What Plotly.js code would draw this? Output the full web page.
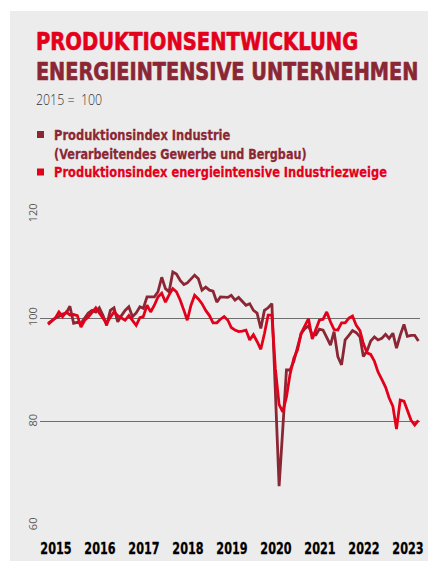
<!DOCTYPE html>
<html>
<head>
<meta charset="utf-8">
<script src="https://cdn.plot.ly/plotly-3.0.1.min.js"></script>
<style>
  html, body { margin: 0; padding: 0; background: #ffffff; }
  #chart { position: absolute; left: 10px; top: 11px; width: 418px; height: 550px; }
</style>
</head>
<body>
<div id="chart"></div>
<script>
// ---- Data (2015 = 100), monthly from Jan 2015 ----
const startYear = 2015;
const industrie = [
  99, 99.5, 100, 100.3, 100.8, 101, 102.3, 99, 99.2, 99, 100, 101,
  101.5, 101.2, 102, 100.5, 98.6, 101.5, 102, 99.3, 100.5, 101.5, 102.2, 100.3,
  101, 102.2, 101.9, 104.1, 104.1, 104.1, 105.1, 107.9, 105.7, 105.1, 108.9, 108.5,
  107.3, 106.5, 106.8, 107.5, 108.3, 107.6, 105.4, 106, 105.4, 105.2, 103.1, 104.1,
  104, 104, 104.4, 103.5, 104, 103.2, 102.5, 102.8, 101.5, 101, 98, 101.5,
  102, 102.8, 86, 67.6, 78.5, 90, 90, 91.7, 94.4, 97, 98, 98.5,
  96.8, 96.8, 97.9, 97.7, 96.3, 94.8, 97.4, 92.6, 91, 95.8, 96.7, 97.6,
  97.2, 96.4, 92.6, 93.7, 95.6, 96.4, 95.8, 96.1, 96.9, 96.1, 97.1, 94.2,
  96.7, 98.8, 96.5, 96.7, 96.7, 95.6
];
const energieintensiv = [
  98.8, 99.5, 100, 101.2, 100.3, 101.2, 100.6, 100.7, 100.5, 98.3, 99.6, 100.2,
  101, 102, 101, 100, 99, 100.2, 101.2, 100.5, 100, 99.6, 100.5, 99.5,
  98.6, 100.1, 100.3, 102.5, 101.2, 102.5, 104.1, 104.8, 103.1, 104.5, 105.7, 105.1,
  103.5, 101.5, 99.6, 102.5, 104.4, 103.7, 102.8, 101.5, 100.5, 99.1, 99.1, 99.8,
  100.3, 99.6, 98.2, 97.7, 97.4, 97.5, 97.7, 95.8, 96.8, 95.5, 94, 97,
  100.6, 100.6, 90.2, 83.3, 81.9, 84.8, 89.2, 92.3, 93.9, 97.1, 98.5, 99.9,
  96, 97.7, 99.6, 99.8, 101.2, 99.3, 97.8, 97.7, 99.1, 99.1, 100, 100.4,
  98.6, 97.6, 95.1, 93.3, 93, 91.7, 89.6, 88.2, 86.7, 84.6, 83, 78.6,
  84.2, 84, 82.2, 80.3, 79.4, 80.3
];
const yearLabels = ["2015","2016","2017","2018","2019","2020","2021","2022","2023"];
const yTicks = [60, 80, 100, 120];
const legendLines = [
  "Produktionsindex Industrie",
  "(Verarbeitendes Gewerbe und Bergbau)",
  "Produktionsindex energieintensive Industriezweige"
];

// month date strings for the categories
const months = industrie.map((_, i) => {
  const y = startYear + Math.floor(i / 12);
  const m = (i % 12) + 1;
  return y + "-" + String(m).padStart(2, "0") + "-01";
});

const DARK = "#8b2734";
const RED = "#e3001b";
const BG = "#ececec";

// pixel helpers (div coordinates) -> paper coordinates
const W = 418, H = 550, L = 30, R = 8, T = 203, B = 35;
const pw = W - L - R, ph = H - T - B;
const px = x => (x - L) / pw;
const py = y => (H - B - y) / ph;

const traces = [
  { x: months, y: industrie, type: "scatter", mode: "lines",
    line: { color: DARK, width: 2.8 }, name: "Industrie", hoverinfo: "skip" },
  { x: months, y: energieintensiv, type: "scatter", mode: "lines",
    line: { color: RED, width: 2.8 }, name: "Energieintensiv", hoverinfo: "skip" }
];

const BF = "'DejaVu Sans', sans-serif";
const LF = "'Open Sans', 'DejaVu Sans', sans-serif";

// each annotation may carry a target width (px), scale origin and extra stroke weight
const annSpecs = [
  { text: "<b>PRODUKTIONSENTWICKLUNG</b>", x: px(25), y: py(30), xanchor: "left", yanchor: "middle",
    font: { family: BF, size: 25, color: RED }, _w: 323, _o: "left", _s: 0.7 },
  { text: "<b>ENERGIEINTENSIVE UNTERNEHMEN</b>", x: px(25), y: py(60), xanchor: "left", yanchor: "middle",
    font: { family: BF, size: 25, color: DARK }, _w: 383, _o: "left", _s: 0.7 },
  { text: "2015 =  100", x: px(25), y: py(88), xanchor: "left", yanchor: "middle",
    font: { family: LF, size: 15, color: "#333333", weight: 300 }, _w: 67, _o: "left" },
  { text: "<b>" + legendLines[0] + "</b>", x: px(43), y: py(124), xanchor: "left", yanchor: "middle",
    font: { family: BF, size: 13.5, color: DARK }, _w: 177, _o: "left", _s: 0.25 },
  { text: "<b>" + legendLines[1] + "</b>", x: px(43), y: py(143), xanchor: "left", yanchor: "middle",
    font: { family: BF, size: 13.5, color: DARK }, _w: 254, _o: "left", _s: 0.25 },
  { text: "<b>" + legendLines[2] + "</b>", x: px(43), y: py(161), xanchor: "left", yanchor: "middle",
    font: { family: BF, size: 13.5, color: RED }, _w: 334, _o: "left", _s: 0.25 }
];
// x axis year labels, placed on the date axis
const tickDates = yearLabels.map(y => y + "-03-06");
yearLabels.forEach((lab, i) => {
  annSpecs.push({ text: "<b>" + lab + "</b>", x: tickDates[i], xref: "x", y: py(537), xanchor: "center",
    yanchor: "middle", font: { family: BF, size: 16.5, color: "#000000" }, _w: 32, _o: "center", _s: 0.3 });
});

const annotations = annSpecs.map(a => {
  const o = Object.assign({ xref: "paper", yref: "paper", showarrow: false, borderpad: 0 }, a);
  delete o._w; delete o._o; delete o._s;
  return o;
});

const shapes = [
  { type: "rect", xref: "paper", yref: "paper", x0: px(27), x1: px(34), y0: py(120), y1: py(127),
    fillcolor: DARK, line: { width: 0 } },
  { type: "rect", xref: "paper", yref: "paper", x0: px(27), x1: px(34), y0: py(157.5), y1: py(164.5),
    fillcolor: RED, line: { width: 0 } }
];

const layout = {
  width: W, height: H,
  margin: { l: L, r: R, t: T, b: B },
  paper_bgcolor: BG, plot_bgcolor: BG,
  showlegend: false,
  xaxis: {
    type: "date",
    range: ["2014-10-26", "2023-06-14"],
    showticklabels: false,
    showgrid: false, zeroline: false, showline: false, ticks: ""
  },
  yaxis: {
    range: [59.9, 120.1],
    tickmode: "array", tickvals: yTicks,
    showgrid: true, gridcolor: "#6e6e6e", gridwidth: 1.2,
    zeroline: false, showline: false, ticks: "",
    tickangle: -90,
    tickfont: { family: LF, size: 11, color: "#5a5a5a" },
    ticklabelstandoff: 0
  },
  annotations: annotations,
  shapes: shapes
};

function condense() {
  const nodes = document.querySelectorAll("#chart .annotation");
  nodes.forEach(g => {
    const idx = +g.getAttribute("data-index");
    const spec = annSpecs[idx];
    if (!spec || !spec._w) return;
    const t = g.querySelector("text");
    if (!t) return;
    const box = g.getBBox();
    const w = box.width;
    if (!w) return;
    const s = spec._w / w;
    const x0 = spec._o === "center" ? box.x + box.width / 2 : box.x;
    g.setAttribute("transform", "translate(" + x0 + ",0) scale(" + s + ",1) translate(" + (-x0) + ",0)");
    if (spec._s) {
      t.style.stroke = spec.font.color;
      t.style.strokeWidth = spec._s + "px";
      t.style.strokeLinejoin = "round";
    }
  });
}

Plotly.newPlot("chart", traces, layout, { displayModeBar: false, staticPlot: true }).then(condense);
</script>
</body>
</html>
